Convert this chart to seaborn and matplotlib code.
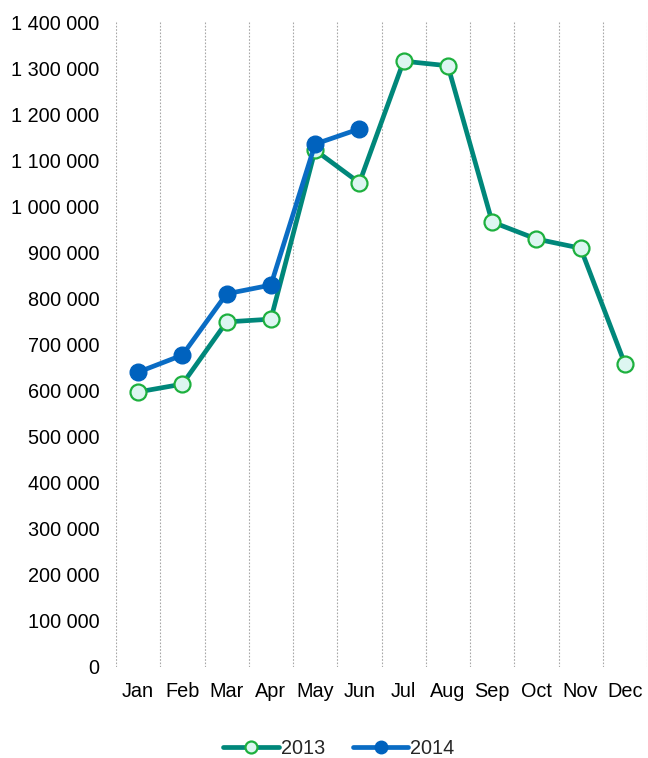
import matplotlib
matplotlib.use("Agg")
import matplotlib.pyplot as plt
import numpy as np
import pandas as pd
import seaborn as sns
from matplotlib.ticker import FixedLocator, FuncFormatter

months = ["Jan", "Feb", "Mar", "Apr", "May", "Jun",
          "Jul", "Aug", "Sep", "Oct", "Nov", "Dec"]
values_2013 = [597000, 614000, 749000, 755000, 1122000, 1051000,
               1315000, 1305000, 966000, 929000, 909000, 658000]
values_2014 = [640000, 677000, 810000, 829000, 1135000, 1168000]
y_ticks = list(range(0, 1400001, 100000))

sns.set_style("white")
plt.rcParams["font.family"] = ["Liberation Sans", "DejaVu Sans"]

df13 = pd.DataFrame({"Month": months, "Value": values_2013})
df14 = pd.DataFrame({"Month": months[:len(values_2014)], "Value": values_2014})

fig = plt.figure(figsize=(6.48, 7.58), dpi=100)
ax = fig.add_axes([116 / 648, 91 / 758, 531 / 648, 645 / 758])

sns.lineplot(data=df13, x="Month", y="Value", ax=ax, color="#00877A",
             linewidth=3.4, marker="o", markersize=11.5,
             markerfacecolor="#DDF6F1", markeredgecolor="#1DB03E",
             markeredgewidth=1.6, label="2013", sort=False)
sns.lineplot(data=df14, x="Month", y="Value", ax=ax, color="#0A6CC4",
             linewidth=3.4, marker="o", markersize=12,
             markerfacecolor="#0062BE", markeredgecolor="#0062BE",
             markeredgewidth=1.0, label="2014", sort=False)

ax.set_xlim(-0.5, 11.5)
ax.set_ylim(0, 1400000)
ax.yaxis.set_major_locator(FixedLocator(y_ticks))
ax.yaxis.set_major_formatter(FuncFormatter(lambda v, p: f"{v:,.0f}".replace(",", " ")))
ax.set_xticks(range(len(months)))
ax.set_xticklabels(months)
ax.xaxis.set_minor_locator(FixedLocator(np.arange(-0.5, 12, 1)))
ax.grid(False)
ax.grid(True, which="minor", axis="x", color="#A8A8A8", linestyle=(0, (1.5, 1.5)), linewidth=0.8)
ax.tick_params(axis="both", which="both", length=0, labelsize=14.3, colors="black")
ax.tick_params(axis="y", pad=12)
ax.tick_params(axis="x", pad=11)
for s in ax.spines.values():
    s.set_visible(False)
ax.set_xlabel("")
ax.set_ylabel("")

ax.legend(loc="lower center", bbox_to_anchor=(0.523, 0.0), bbox_transform=fig.transFigure,
          ncol=2, frameon=False, fontsize=14.3, handlelength=2.8, markerscale=0.75,
          columnspacing=1.4, handletextpad=0.1, borderaxespad=0.0, borderpad=0.0)

fig.savefig("out.png", dpi=100)
